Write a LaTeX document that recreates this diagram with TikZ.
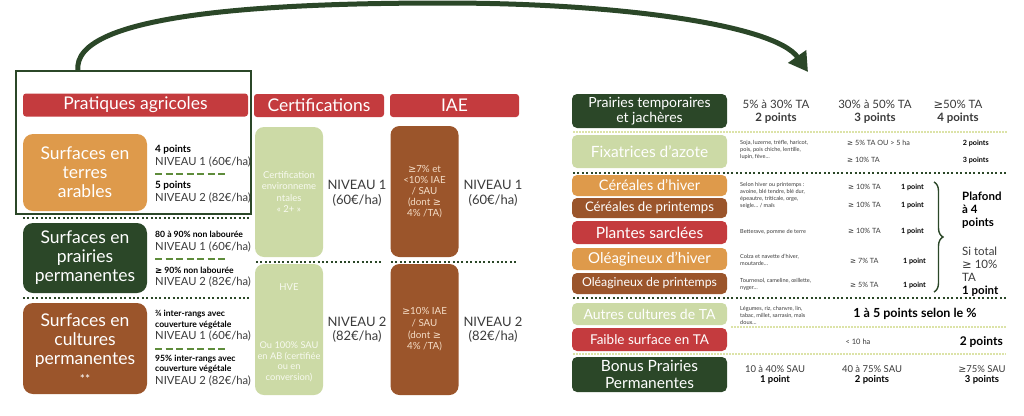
\documentclass[tikz,border=0pt]{standalone}
\usepackage{fontspec}
\setmainfont{Lato}
\newfontfamily\symf{DejaVu Sans}
\newcommand\GE{{\symf ≥}}
\newcommand\fs[2]{\fontsize{#1}{#2}\selectfont}
\usetikzlibrary{arrows.meta,decorations.pathreplacing}
\definecolor{cred}{HTML}{C43B3E}
\definecolor{corange}{HTML}{DE9A4B}
\definecolor{cdgreen}{HTML}{2B4728}
\definecolor{cbrown}{HTML}{9B552B}
\definecolor{clgreen}{HTML}{CCDAA6}
\definecolor{cmgreen}{HTML}{5E8C3B}
\definecolor{cyel}{HTML}{DCE3A8}
\definecolor{ctext}{HTML}{3A3A3A}
\definecolor{cpale}{HTML}{F8FAF0}
\definecolor{cpeach}{HTML}{F4DCC6}
\begin{document}
\begin{tikzpicture}[x=1pt,y=-1pt,
  hdr/.style={fill=cred, rounded corners=3pt, text=white, font=\fs{17.5}{19}, minimum height=23pt, inner sep=0pt},
  lbox/.style={rounded corners=10pt, text=white, align=center, inner sep=0pt, font=\fs{17.5}{19}, minimum width=124pt},
  tbox/.style={rounded corners=9pt, align=center, inner sep=0pt, minimum width=68pt},
  rbox/.style={rounded corners=5pt, text=white, align=center, inner sep=0pt, minimum width=155pt},
  lbl/.style={inner sep=0pt, text=ctext},
  pts/.style={lbl, anchor=west, font=\bfseries\fs{10}{12}, text=black},
  niv/.style={lbl, anchor=west, font=\fs{11.2}{13}},
  cond/.style={lbl, anchor=west, align=left, font=\bfseries\fs{8.6}{10.5}, text=black},
  mniv/.style={lbl, align=center, font=\fs{13}{14.5}},
  gdash/.style={cmgreen, line width=2pt, dash pattern=on 7pt off 3.5pt},
  dotsep/.style={cdgreen, line width=2.2pt, dash pattern=on 2pt off 2.4pt},
  lsep/.style={cyel, line width=1.6pt, dash pattern=on 1.5pt off 1.5pt},
  tiny/.style={lbl, anchor=west, align=left, font=\fs{5.6}{7}},
  sm/.style={lbl, anchor=west, font=\fs{7.2}{8.5}},
  smb/.style={lbl, anchor=west, font=\bfseries\fs{7.2}{8.5}, text=black},
  colt/.style={lbl, align=center, font=\fs{11.5}{13}},
  arr/.style={cdgreen, line width=5pt, -{Triangle[length=19pt,width=21pt]}}
]
\useasboundingbox (0,0) rectangle (1024,415);

% ===== headers =====
\node[hdr, minimum width=225pt] (h1) at (135.5,105) {Pratiques agricoles};
\node[hdr, minimum width=130pt] (h2) at (319,105.5) {Certifications};
\node[hdr, minimum width=129pt] (h3) at (454.5,105.5) {IAE};

% ===== frame + arrow =====
\node[draw=cdgreen, line width=1.6pt, minimum width=235pt, minimum height=143pt, inner sep=0pt] (frame) at (133.5,142.5) {};
\coordinate (as) at (78,71);
\coordinate (ae) at (808,72);
\draw[arr] (as) .. controls (70,12) and (280,3) .. (444,3) .. controls (620,3) and (775,25) .. (ae);

% ===== left boxes =====
\node[lbox, fill=corange, minimum height=77pt] (ta) at (85,172.5) {Surfaces en\\terres\\arables};
\node[lbox, fill=cdgreen, minimum height=70pt] (pp) at (85,258) {Surfaces en\\prairies\\permanentes};
\node[lbox, fill=cbrown, minimum height=91pt] (cp) at (85,348.5) {Surfaces en\\cultures\\permanentes\\{\fs{12}{13}**}};

\node[pts] (t1) at (155,150) {4 points};
\node[niv] (t2) at (155,162) {NIVEAU 1 (60€/ha)};
\draw[gdash] (155,174) -- (228,174);
\node[pts] (t3) at (155,186) {5 points};
\node[niv] (t4) at (155,198) {NIVEAU 2 (82€/ha)};

\draw[dotsep] (23,218) -- (250,218);

\node[cond] (p1) at (155,234) {80 à 90\% non labourée};
\node[niv] (p2) at (155,247) {NIVEAU 1 (60€/ha)};
\draw[gdash] (155,259) -- (228,259);
\node[cond] (p3) at (155,270) {\GE{} 90\% non labourée};
\node[niv] (p4) at (155,282) {NIVEAU 2 (82€/ha)};

\draw[dotsep] (23,298) -- (250,298);

\node[cond] (q1) at (155,319.5) {¾ inter-rangs avec\\couverture végétale};
\node[niv] (q2) at (155,336) {NIVEAU 1 (60€/ha)};
\draw[gdash] (155,349) -- (228,349);
\node[cond] (q3) at (155,364) {95\% inter-rangs avec\\couverture végétale};
\node[niv] (q4) at (155,381) {NIVEAU 2 (82€/ha)};

% ===== certifications =====
\node[tbox, fill=clgreen, minimum height=130pt, text=cpale, font=\fs{9.5}{11.3}] (c1) at (289,192) {Certification\\environneme\\ntales\\« 2+ »};
\node[tbox, fill=clgreen, minimum height=131pt] (c2) at (289,329.5) {};
\node[lbl, text=cpale, font=\fs{9.5}{11}] (c2a) at (289,287) {HVE};
\node[lbl, text=cpale, align=center, font=\fs{9.3}{10.5}] (c2b) at (289,362) {Ou 100\% SAU\\en AB (certifiée\\ou en\\conversion)};
\node[mniv] (cn1) at (357,193.5) {NIVEAU 1\\(60€/ha)};
\node[mniv] (cn2) at (357,329.5) {NIVEAU 2\\(82€/ha)};
\draw[dotsep] (256,262) -- (383,262);

% ===== IAE =====
\node[tbox, fill=cbrown, minimum height=131pt, text=cpeach, font=\fs{9.8}{11}] (i1) at (424.5,191.5) {\GE{}7\% et\\<10\% IAE\\/ SAU\\(dont \GE\\4\% /TA)};
\node[tbox, fill=cbrown, minimum height=131pt, text=cpeach, font=\fs{9.8}{11.6}] (i2) at (424.5,329.5) {\GE{}10\% IAE\\/ SAU\\(dont \GE\\4\% /TA)};
\node[mniv] (in1) at (493,193.5) {NIVEAU 1\\(60€/ha)};
\node[mniv] (in2) at (493,329.5) {NIVEAU 2\\(82€/ha)};
\draw[dotsep] (391,262) -- (518,262);

% ===== right section =====
\node[rbox, fill=cdgreen, minimum height=34pt, font=\fs{14}{15}] (r1) at (649.5,111) {Prairies temporaires\\et jachères};
\node[colt] (r1a) at (776,111.5) {5\% à 30\% TA\\\textbf{2 points}};
\node[colt] (r1b) at (875,111.5) {30\% à 50\% TA\\\textbf{3 points}};
\node[colt] (r1c) at (958,111.5) {\GE{}50\% TA\\\textbf{4 points}};
\draw[lsep] (573,132) -- (1007,132);

\node[rbox, fill=clgreen, minimum height=33pt, font=\fs{15.5}{17}] (r2) at (649.5,151.5) {Fixatrices d’azote};
\node[tiny] (r2t) at (740,150) {Soja, luzerne, trèfle, haricot,\\pois, pois chiche, lentille,\\lupin, fève…};
\node[sm] (r2a) at (847,143) {\GE{} 5\% TA OU > 5 ha};
\node[sm] (r2b) at (847,160) {\GE{} 10\% TA};
\node[smb, anchor=east] (r2c) at (989,143) {2 points};
\node[smb, anchor=east] (r2d) at (989,160) {3 points};
\draw[dotsep] (573,173) -- (1007,173);

\node[rbox, fill=corange, minimum height=21pt, font=\fs{14.5}{15}] (r3) at (649.5,185.5) {Céréales d’hiver};
\node[rbox, fill=cbrown, minimum height=20pt, font=\fs{13.2}{14}] (r4) at (649.5,208) {Céréales de printemps};
\node[rbox, fill=cred, minimum height=23pt, font=\fs{15.5}{16}] (r5) at (649.5,232.5) {Plantes sarclées};
\node[rbox, fill=corange, minimum height=22pt, font=\fs{15}{16}] (r6) at (649.5,259) {Oléagineux d’hiver};
\node[rbox, fill=cbrown, minimum height=21pt, font=\fs{12.3}{13}] (r7) at (649.5,283.5) {Oléagineux de printemps};

\node[tiny] (r3t) at (740,195.5) {Selon hiver ou printemps :\\avoine, blé tendre, blé dur,\\épeautre, triticale, orge,\\seigle… / maïs};
\node[tiny] (r5t) at (740,232) {Betterave, pomme de terre};
\node[tiny] (r6t) at (740,260) {Colza et navette d’hiver,\\moutarde…};
\node[tiny] (r7t) at (740,284.5) {Tournesol, cameline, œillette,\\nyger…};

\node[sm] (v3) at (848,187) {\GE{} 10\% TA};
\node[sm] (v4) at (848,205) {\GE{} 10\% TA};
\node[sm] (v5) at (848,231) {\GE{} 10\% TA};
\node[sm] (v6) at (850,261) {\GE{} 7\% TA};
\node[sm] (v7) at (850,285) {\GE{} 5\% TA};
\node[smb] (w3) at (901,187) {1 point};
\node[smb] (w4) at (901,205) {1 point};
\node[smb] (w5) at (901,231) {1 point};
\node[smb] (w6) at (903,261) {1 point};
\node[smb] (w7) at (903,285) {1 point};

\draw[cdgreen, line width=1.4pt, decorate, decoration={brace, amplitude=9pt, aspect=0.5}] (934,182) -- (934,292);
\node[lbl, anchor=west, align=left, font=\bfseries\fs{11.5}{13}, text=black] (pl) at (962,210) {Plafond\\à 4\\points};
\node[lbl, anchor=west, align=left, font=\fs{11.5}{13}] (st) at (962,271.5) {Si total\\\GE{} 10\%\\TA\\\textbf{\color{black}1 point}};

\draw[dotsep] (573,298) -- (1007,298);

\node[rbox, fill=clgreen, minimum height=22pt, font=\fs{14}{15}] (r8) at (649.5,314) {Autres cultures de TA};
\node[tiny] (r8t) at (740,315) {Légumes, riz, chanvre, lin,\\tabac, millet, sarrasin, maïs\\doux…};
\node[lbl, font=\bfseries\fs{12.5}{14}, text=black] (r8a) at (915,314) {1 à 5 points selon le \%};
\draw[lsep] (731,327) -- (1006,327);

\node[rbox, fill=cred, minimum height=23pt, font=\fs{13.5}{15}] (r9) at (649.5,339.5) {Faible surface en TA};
\node[lbl, font=\fs{7.5}{9}] (r9a) at (858,342) {< 10 ha};
\node[lbl, anchor=east, font=\bfseries\fs{12}{14}, text=black] (r9b) at (1003,342) {2 points};
\draw[lsep] (573,354) -- (1006,354);

\node[rbox, fill=cdgreen, minimum height=35pt, font=\fs{15.5}{17}] (r10) at (649.5,374.5) {Bonus Prairies\\Permanentes};
\node[lbl, align=center, font=\fs{9.5}{10.5}] (b1) at (775,375) {10 à 40\% SAU\\\textbf{\color{black}1 point}};
\node[lbl, align=center, font=\fs{9.5}{10.5}] (b2) at (872,375) {40 à 75\% SAU\\\textbf{\color{black}2 points}};
\node[lbl, align=center, font=\fs{9.5}{10.5}] (b3) at (982,375) {\GE{}75\% SAU\\\textbf{\color{black}3 points}};
\end{tikzpicture}
\end{document}
